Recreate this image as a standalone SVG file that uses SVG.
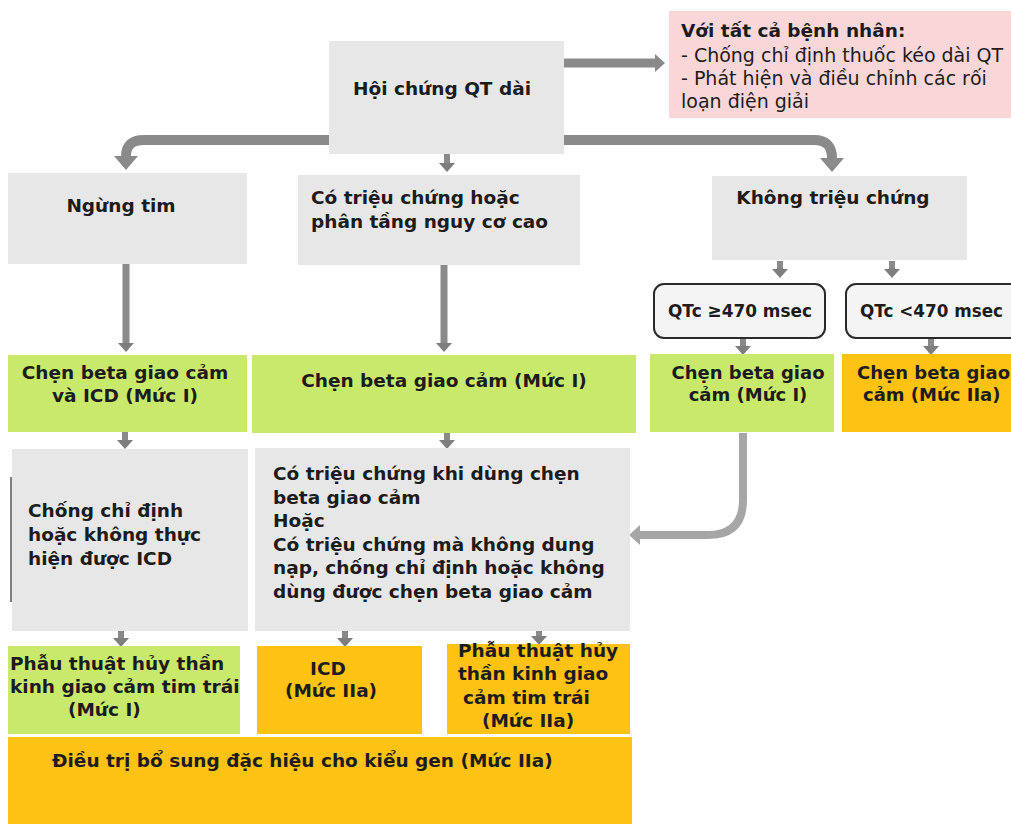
<svg xmlns="http://www.w3.org/2000/svg" width="1011" height="824" viewBox="0 0 1011 824">
<defs>
<style>
.t{font-family:"DejaVu Sans","Liberation Sans",sans-serif;font-weight:bold;fill:#1c1c1c;font-size:18.5px}
.r{font-family:"DejaVu Sans","Liberation Sans",sans-serif;fill:#1c1c1c;font-size:19px}
.m{text-anchor:middle}
.s18{font-size:18px}
.gray{fill:#e7e7e7}
.green{fill:#c9e96d}
.orange{fill:#fec312}
.pink{fill:#f9d7d9}
.qtc{fill:#f4f4f4;stroke:#2a2a2a;stroke-width:2}
.a{fill:none;stroke:#8a8a8a}
.al{fill:none;stroke:#a6a6a6}
</style>
<marker id="hb" markerUnits="userSpaceOnUse" viewBox="0 0 14 24" markerWidth="14" markerHeight="24" refX="0" refY="12" orient="auto"><path d="M0,0 L14,12 L0,24 z" fill="#8a8a8a"/></marker>
<marker id="hm" markerUnits="userSpaceOnUse" viewBox="0 0 10 18" markerWidth="10" markerHeight="18" refX="0" refY="9" orient="auto"><path d="M0,0 L10,9 L0,18 z" fill="#8a8a8a"/></marker>
<marker id="hs" markerUnits="userSpaceOnUse" viewBox="0 0 9 16" markerWidth="9" markerHeight="16" refX="0" refY="8" orient="auto"><path d="M0,0 L9,8 L0,16 z" fill="#7e7e7e"/></marker>
<marker id="hl" markerUnits="userSpaceOnUse" viewBox="0 0 11 20" markerWidth="11" markerHeight="20" refX="0" refY="10" orient="auto"><path d="M0,0 L11,10 L0,20 z" fill="#a6a6a6"/></marker>
</defs>
<rect width="1011" height="824" fill="#ffffff"/>

<g id="connectors">
<path class="a" stroke-width="10" d="M330,140 H144 Q126,140 126,156" marker-end="url(#hb)"/>
<path class="a" stroke-width="10" d="M562,140 H814 Q832,140 832,158" marker-end="url(#hb)"/>
<path class="a" stroke-width="9" d="M564,63 H655" marker-end="url(#hm)"/>
<path class="a" stroke-width="6" stroke="#7e7e7e" d="M447,154 V163" marker-end="url(#hs)"/>
<path class="a" stroke-width="7" d="M126,264 V343" marker-end="url(#hs)"/>
<path class="a" stroke-width="7" d="M444,265 V343" marker-end="url(#hs)"/>
<path class="a" stroke-width="6" stroke="#7e7e7e" d="M780,261 V269" marker-end="url(#hs)"/>
<path class="a" stroke-width="6" stroke="#7e7e7e" d="M892,261 V269" marker-end="url(#hs)"/>
<path class="a" stroke-width="6" stroke="#7e7e7e" d="M743,338 V346" marker-end="url(#hs)"/>
<path class="a" stroke-width="6" stroke="#7e7e7e" d="M931,338 V346" marker-end="url(#hs)"/>
<path class="a" stroke-width="6" stroke="#7e7e7e" d="M125,432 V440" marker-end="url(#hs)"/>
<path class="a" stroke-width="6" stroke="#7e7e7e" d="M447,433 V440" marker-end="url(#hs)"/>
<path class="a" stroke-width="6" stroke="#7e7e7e" d="M121,631 V638" marker-end="url(#hs)"/>
<path class="a" stroke-width="6" stroke="#7e7e7e" d="M345,631 V638" marker-end="url(#hs)"/>
<path class="a" stroke-width="6" stroke="#7e7e7e" d="M539,631 V636" marker-end="url(#hs)"/>
<path class="al" stroke-width="8" d="M743,433 V500 Q743,535 708,535 H640" marker-end="url(#hl)"/>
</g>

<g id="n-main">
<rect class="gray" x="329" y="41" width="235" height="113"/>
<text class="t m" x="442" y="95" font-size="19">Hội chứng QT dài</text>
</g>

<g id="n-all">
<rect class="pink" x="669" y="11" width="342" height="107"/>
<text class="t" x="681" y="37">Với tất cả bệnh nhân:</text>
<text class="r" x="681" y="62">- Chống chỉ định thuốc kéo dài QT</text>
<text class="r" x="681" y="85">- Phát hiện và điều chỉnh các rối</text>
<text class="r" x="681" y="108">loạn điện giải</text>
</g>

<g id="n-ngung">
<rect class="gray" x="8" y="173" width="239" height="91"/>
<text class="t m" x="121" y="212">Ngừng tim</text>
</g>

<g id="n-cotrieu">
<rect class="gray" x="298" y="175" width="282" height="90"/>
<text class="t" x="311" y="204">Có triệu chứng hoặc</text>
<text class="t" x="311" y="228">phân tầng nguy cơ cao</text>
</g>

<g id="n-khong">
<rect class="gray" x="712" y="176" width="255" height="84"/>
<text class="t m" x="833" y="204">Không triệu chứng</text>
</g>

<g id="n-qtc1">
<rect class="qtc" x="654" y="284" width="171" height="54" rx="10"/>
<text class="t" x="668" y="317" font-size="16.5" textLength="144" lengthAdjust="spacingAndGlyphs">QTc ≥470 msec</text>
</g>

<g id="n-qtc2">
<rect class="qtc" x="846" y="284" width="180" height="54" rx="10"/>
<text class="t" x="860" y="317" font-size="16.5" textLength="143" lengthAdjust="spacingAndGlyphs">QTc &lt;470 msec</text>
</g>

<g id="n-bb-icd">
<rect class="green" x="8" y="355" width="239" height="77"/>
<text class="t m" x="125" y="379" font-size="17.5">Chẹn beta giao cảm</text>
<text class="t m" x="125" y="402" font-size="17.5">và ICD (Mức I)</text>
</g>

<g id="n-bb">
<rect class="green" x="252" y="355" width="384" height="78"/>
<text class="t m" x="444" y="387" font-size="17.5">Chẹn beta giao cảm (Mức I)</text>
</g>

<g id="n-bb-r">
<rect class="green" x="650" y="354" width="184" height="78"/>
<text class="t m s18" x="748" y="379">Chẹn beta giao</text>
<text class="t m s18" x="748" y="401">cảm (Mức I)</text>
</g>

<g id="n-bb-iia">
<rect class="orange" x="842" y="354" width="169" height="78"/>
<text class="t s18" x="857" y="379">Chẹn beta giao</text>
<text class="t s18" x="863" y="401">cảm (Mức IIa)</text>
</g>

<g id="n-chong">
<rect class="gray" x="12" y="449" width="236" height="182"/>
<line x1="11" y1="477" x2="11" y2="602" stroke="#555" stroke-width="1.5"/>
<text class="t" x="28" y="517">Chống chỉ định</text>
<text class="t" x="28" y="541">hoặc không thực</text>
<text class="t" x="28" y="565">hiện được ICD</text>
</g>

<g id="n-sym">
<rect class="gray" x="255" y="448" width="375" height="183"/>
<text class="t" x="273" y="480">Có triệu chứng khi dùng chẹn</text>
<text class="t" x="273" y="504">beta giao cảm</text>
<text class="t" x="273" y="527">Hoặc</text>
<text class="t" x="273" y="551">Có triệu chứng mà không dung</text>
<text class="t" x="273" y="574">nạp, chống chỉ định hoặc không</text>
<text class="t" x="273" y="598">dùng được chẹn beta giao cảm</text>
</g>

<g id="n-lcsd1">
<rect class="green" x="8" y="646" width="232" height="88"/>
<text class="t" x="10" y="670">Phẫu thuật hủy thần</text>
<text class="t" x="10" y="693">kinh giao cảm tim trái</text>
<text class="t" x="68" y="716">(Mức I)</text>
</g>

<g id="n-icd">
<rect class="orange" x="257" y="646" width="165" height="88"/>
<text class="t m" x="328" y="675">ICD</text>
<text class="t m" x="331" y="697">(Mức IIa)</text>
</g>

<g id="n-lcsd2">
<rect class="orange" x="447" y="644" width="183" height="90"/>
<text class="t" x="458" y="657" font-size="17.5">Phẫu thuật hủy</text>
<text class="t" x="458" y="680" font-size="17.5">thần kinh giao</text>
<text class="t" x="463" y="704" font-size="17.5">cảm tim trái</text>
<text class="t" x="482" y="727" font-size="17.5">(Mức IIa)</text>
</g>

<g id="n-gene">
<rect class="orange" x="8" y="737" width="624" height="87"/>
<text class="t" x="52" y="767">Điều trị bổ sung đặc hiệu cho kiểu gen (Mức IIa)</text>
</g>
</svg>
